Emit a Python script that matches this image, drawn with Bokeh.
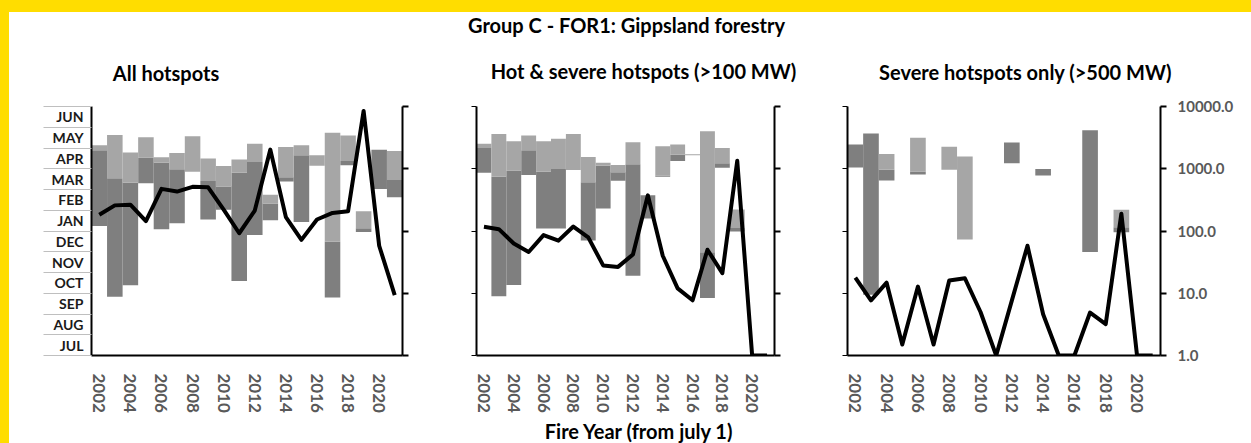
from bokeh.plotting import figure
from bokeh.models import (Range1d, LogScale, LogAxis, LinearAxis, FixedTicker, Label,
                          PrintfTickFormatter, Spacer)
from bokeh.layouts import row, column
from bokeh.embed import file_html
from bokeh.resources import INLINE

nan = float("nan")

# ---------------- data ----------------
years = list(range(2002, 2022))
year_ticks = list(range(2002, 2021, 2))
month_labels = ["JUL", "AUG", "SEP", "OCT", "NOV", "DEC", "JAN", "FEB", "MAR", "APR", "MAY", "JUN"]
count_ticks = [1, 10, 100, 1000, 10000]

main_title = "Group C - FOR1: Gippsland forestry"
x_title = "Fire Year (from july 1)"
panel_titles = ["All hotspots", "Hot & severe hotspots (>100 MW)", "Severe hotspots only (>500 MW)"]

# season position in months since 1 July (0 = start of JUL, 12 = end of JUN)
all_low = [6.24, 2.83, 3.38, 8.30, 6.08, 6.37, 8.86, 6.56, 7.03, 3.59, 5.81, 6.52, 8.38, 6.43, 9.14, 2.79, 9.17, 5.95, 8.03, 7.63]
all_mid = [9.89, 8.54, 8.33, 9.54, 9.29, 8.98, 8.86, 8.41, 8.14, 8.81, 9.33, 7.32, 8.59, 9.65, 9.14, 5.48, 9.37, 6.13, 9.92, 8.46]
all_high = [10.13, 10.63, 9.78, 10.52, 9.56, 9.76, 10.57, 9.49, 9.13, 9.44, 10.21, 7.75, 10.05, 10.13, 9.65, 10.73, 10.60, 6.95, 9.92, 9.86]
all_count = [183, 258, 265, 144, 475, 430, 512, 504, 220, 92, 213, 2030, 167, 72, 153, 195, 208, 8500, 58, 9.3]

hot_low = [8.81, 2.85, 3.40, 8.70, 6.12, 6.12, 8.94, 5.54, 7.09, 8.42, 3.84, 6.60, 8.62, 9.37, 9.65, 2.77, 9.05, 5.98, nan, nan]
hot_mid = [10.00, 8.62, 8.91, 9.89, 8.86, 8.99, 8.94, 8.35, 9.15, 8.83, 9.22, 7.72, 8.67, 9.68, 9.65, 4.98, 9.26, 6.14, nan, nan]
hot_high = [10.21, 10.68, 10.33, 10.60, 10.33, 10.44, 10.68, 9.57, 9.29, 9.18, 10.28, 7.72, 10.08, 10.17, 9.70, 10.81, 10.00, 7.04, nan, nan]
hot_count = [117, 107, 63, 46, 86, 70, 118, 79, 28, 26.5, 42, 374, 40, 12, 7.7, 50, 21, 1340, 1, 1]

sev_low = [9.06, 2.93, 8.43, nan, 8.72, nan, 8.95, 5.59, nan, nan, 9.27, nan, 8.67, nan, nan, 4.99, nan, 5.94, nan, nan]
sev_mid = [10.17, 10.70, 8.95, nan, 8.87, nan, 8.95, 5.59, nan, nan, 10.27, nan, 8.99, nan, nan, 10.86, nan, 6.18, nan, nan]
sev_high = [10.17, 10.70, 9.71, nan, 10.49, nan, 10.06, 9.59, nan, nan, 10.27, nan, 8.99, nan, nan, 10.86, nan, 7.02, nan, nan]
sev_count = [17.8, 7.7, 14.8, 1.5, 12.8, 1.5, 16, 17.4, 5.0, 1, 7.6, 58, 4.6, 1, 1, 4.9, 3.2, 190, 1, 1]

# ---------------- style / geometry (page pixels) ----------------
FONT = "Lato"
DARK = "#7F7F7F"
LIGHT = "#A6A6A6"
YELLOW = "#FFDD00"
TICK_GREY = "#595959"
PAGE_W, PAGE_H = 1251, 443
YEL_TOP, YEL_LEFT = 12, 9
HEAD_BOTTOM = 92          # header strip: YEL_TOP .. HEAD_BOTTOM
PANEL_BOTTOM = 415        # panels: HEAD_BOTTOM .. PANEL_BOTTOM, footer below
N_MONTHS = len(month_labels)
CONTENT_W = PAGE_W - YEL_LEFT
TITLE_SIZE = 20


def text_strip(top, bottom):
    f = figure(width=CONTENT_W, height=bottom - top, output_backend="svg", toolbar_location=None,
               title=None, x_axis_location=None, y_axis_location=None,
               x_range=Range1d(YEL_LEFT, PAGE_W), y_range=Range1d(bottom, top),
               min_border_left=0, min_border_right=0, min_border_top=0, min_border_bottom=0)
    f.outline_line_color = None
    f.xgrid.visible = False
    f.ygrid.visible = False
    f.background_fill_color = "white"
    f.border_fill_color = "white"
    return f


def add_text(f, text, cx, baseline):
    # text is anchored on its middle; shift from the wanted baseline
    f.add_layout(Label(x=cx, y=baseline - 0.4 * TITLE_SIZE, text=text,
                       text_align="center", text_baseline="middle",
                       text_font=FONT, text_font_style="bold",
                       text_font_size=f"{TITLE_SIZE}px", text_color="black"))


def make_panel(page_left, page_right, frame_left, frame_right, frame_top, frame_bottom,
               low, mid, high, counts, month_axis=False, count_labels=False):
    p = figure(width=page_right - page_left, height=PANEL_BOTTOM - HEAD_BOTTOM,
               output_backend="svg", toolbar_location=None, title=None,
               x_axis_location=None, y_axis_location=None,
               x_range=Range1d(years[0] - 0.5, years[-1] + 0.5),
               y_range=Range1d(0, N_MONTHS),
               min_border_left=frame_left - page_left,
               min_border_right=page_right - frame_right,
               min_border_top=frame_top - HEAD_BOTTOM,
               min_border_bottom=PANEL_BOTTOM - frame_bottom)
    p.extra_y_ranges = {"log": Range1d(count_ticks[0], count_ticks[-1])}
    p.extra_y_scales = {"log": LogScale()}
    p.outline_line_color = None
    p.background_fill_color = "white"
    p.border_fill_color = "white"
    p.xgrid.visible = False
    p.ygrid.visible = False

    p.vbar(x=years, bottom=low, top=mid, width=1.0, fill_color=DARK, line_color=None)
    p.vbar(x=years, bottom=mid, top=high, width=1.0, fill_color=LIGHT, line_color=None)
    p.line(x=years, y=counts, y_range_name="log", line_color="black", line_width=4,
           line_join="round")

    xax = LinearAxis(ticker=FixedTicker(ticks=year_ticks),
                     axis_line_color="black", axis_line_width=2,
                     major_tick_line_color=None, minor_tick_line_color=None,
                     major_label_orientation="vertical", major_label_standoff=12,
                     major_label_text_font=FONT, major_label_text_font_style="bold",
                     major_label_text_font_size="17px", major_label_text_color=TICK_GREY)
    p.add_layout(xax, "below")

    if month_axis:
        yax = LinearAxis(ticker=FixedTicker(ticks=[i + 0.5 for i in range(N_MONTHS)],
                                            minor_ticks=list(range(N_MONTHS + 1))),
                         major_label_overrides={i + 0.5: m for i, m in enumerate(month_labels)},
                         axis_line_color="black", axis_line_width=2,
                         major_tick_line_color=None, major_tick_out=0, major_tick_in=0,
                         minor_tick_line_color="#BFBFBF", minor_tick_line_width=1,
                         minor_tick_out=48, minor_tick_in=0,
                         major_label_standoff=-40,
                         major_label_text_font=FONT, major_label_text_font_style="bold",
                         major_label_text_font_size="14px", major_label_text_color="#1A1A1A")
    else:
        yax = LinearAxis(ticker=FixedTicker(ticks=[0, 3, 6, 9, 12]),
                         major_label_overrides={t: "" for t in [0, 3, 6, 9, 12]},
                         major_label_text_color=None,
                         axis_line_color="black", axis_line_width=2,
                         major_tick_line_color="black", major_tick_line_width=1,
                         major_tick_out=5, major_tick_in=0,
                         minor_tick_line_color=None)
    p.add_layout(yax, "left")

    rax = LogAxis(y_range_name="log", ticker=FixedTicker(ticks=count_ticks),
                  axis_line_color="black", axis_line_width=2,
                  major_tick_line_color="black", major_tick_line_width=2,
                  major_tick_out=6, major_tick_in=0, minor_tick_line_color=None)
    if count_labels:
        rax.formatter = PrintfTickFormatter(format="%.1f")
        rax.major_label_standoff = 11
        rax.major_label_text_font = FONT
        rax.major_label_text_font_style = "bold"
        rax.major_label_text_font_size = "15px"
        rax.major_label_text_color = TICK_GREY
    else:
        rax.major_label_overrides = {t: "" for t in count_ticks}
        rax.major_label_text_color = None
    p.add_layout(rax, "right")
    return p


p1 = make_panel(YEL_LEFT, 420, 91, 402, 106, 358, all_low, all_mid, all_high, all_count,
                month_axis=True)
p2 = make_panel(420, 822, 476, 774, 104, 357, hot_low, hot_mid, hot_high, hot_count)
p3 = make_panel(822, PAGE_W, 847, 1160, 104, 357, sev_low, sev_mid, sev_high, sev_count,
                count_labels=True)

header = text_strip(YEL_TOP, HEAD_BOTTOM)
add_text(header, main_title, 626, 32)
add_text(header, panel_titles[0], 165.5, 80)
add_text(header, panel_titles[1], 643, 78.5)
add_text(header, panel_titles[2], 1025, 79)

footer = text_strip(PANEL_BOTTOM, PAGE_H)
add_text(footer, x_title, 639, 438)

content = column(header, row(p1, p2, p3), footer)
layout = column(
    Spacer(width=PAGE_W, height=YEL_TOP, styles={"background-color": YELLOW}),
    row(Spacer(width=YEL_LEFT, height=PAGE_H - YEL_TOP, styles={"background-color": YELLOW}),
        content),
)

open("out.html", "w").write(file_html(layout, INLINE))
